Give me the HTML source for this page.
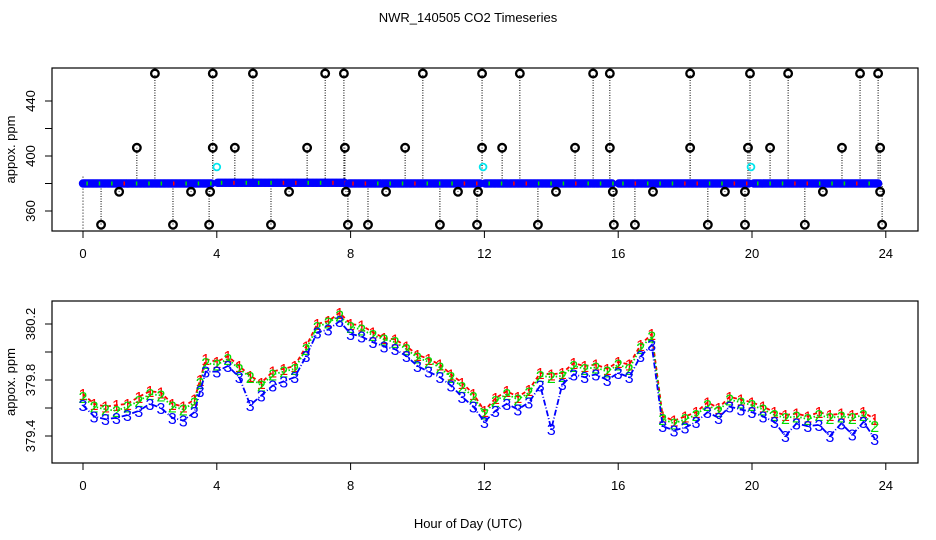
<!DOCTYPE html>
<html><head><meta charset="utf-8"><style>
body{margin:0;background:#fff}
svg{display:block;font-family:"Liberation Sans",sans-serif}
</style></head><body>
<svg id="c" width="936" height="540" viewBox="0 0 936 540" xmlns="http://www.w3.org/2000/svg">
<rect width="936" height="540" fill="#fff"/>
<text x="468" y="22" font-size="13" text-anchor="middle">NWR_140505  CO2 Timeseries</text>
<text x="468" y="528" font-size="13" text-anchor="middle">Hour of Day (UTC)</text>
<g id="top"></g>
<g id="bot"></g>
</svg>
<script>
// ---- data ----
const xTicks=[0,4,8,12,16,20,24];
const topYTicks=[360,380,400,420,440];
const topYLabels=["360","","400","","440"];
const botYTicks=[379.4,379.6,379.8,380.0,380.2];
const botYLabels=["379.4","","379.8","","380.2"];
const baseSegStart=[0,4.02,7.95,12.02,16.02,20.05];
const baseSegEnd=[3.85,7.85,11.9,15.85,19.9,23.8];
const baseLevel=[380,380.5,380,380,380,380];
const outHours=[2.15,3.88,5.08,7.24,7.80,10.16,11.93,13.06,15.25,15.75,18.15,19.94,21.08,23.23,23.77,
 1.61,3.88,4.54,6.70,7.83,9.63,11.93,12.53,14.71,15.75,18.15,19.88,20.54,22.69,23.83,
 1.08,3.23,3.80,6.16,7.86,9.06,11.21,11.81,14.14,15.84,17.04,19.19,19.79,22.12,23.83,
 0.54,2.69,3.77,5.62,7.92,8.52,10.67,11.78,13.60,15.87,16.50,18.68,19.79,21.58,23.89];
const outValues=[460,460,460,460,460,460,460,460,460,460,460,460,460,460,460,
 406,406,406,406,406,406,406,406,406,406,406,406,406,406,406,
 374,374,374,374,374,374,374,374,374,374,374,374,374,374,374,
 350,350,350,350,350,350,350,350,350,350,350,350,350,350,350];
const cyanHours=[4.0,11.96,19.97];
const cyanValues=[392,392,392];
const times=[0,0.33,0.67,1,1.33,1.67,2,2.33,2.67,3,3.33,3.5,3.67,4,4.33,4.67,5,5.33,5.67,6,6.33,6.67,7,7.33,7.67,8,8.33,8.67,9,9.33,9.67,10,10.33,10.67,11,11.33,11.67,12,12.33,12.67,13,13.33,13.67,14,14.33,14.67,15,15.33,15.67,16,16.33,16.67,17,17.33,17.67,18,18.33,18.67,19,19.33,19.67,20,20.33,20.67,21,21.33,21.67,22,22.33,22.67,23,23.33,23.67];
const series1=[379.70,379.63,379.61,379.62,379.63,379.68,379.72,379.71,379.63,379.61,379.66,379.80,379.95,379.93,379.97,379.90,379.83,379.78,379.86,379.88,379.90,380.04,380.20,380.22,380.28,380.20,380.19,380.14,380.10,380.09,380.04,379.98,379.95,379.91,379.84,379.78,379.70,379.58,379.67,379.72,379.68,379.73,379.85,379.84,379.85,379.92,379.90,379.91,379.88,379.93,379.91,380.05,380.13,379.54,379.51,379.54,379.57,379.64,379.60,379.68,379.66,379.64,379.61,379.57,379.55,379.56,379.54,379.57,379.55,379.56,379.55,379.57,379.52];
const series2=[379.68,379.61,379.59,379.58,379.61,379.65,379.70,379.69,379.61,379.59,379.64,379.78,379.92,379.91,379.95,379.88,379.82,379.76,379.84,379.86,379.88,380.02,380.18,380.21,380.26,380.18,380.16,380.12,380.09,380.07,380.02,379.96,379.93,379.89,379.82,379.75,379.68,379.56,379.65,379.70,379.66,379.71,379.83,379.82,379.83,379.90,379.88,379.89,379.86,379.91,379.88,380.03,380.11,379.52,379.49,379.52,379.55,379.62,379.58,379.66,379.64,379.62,379.59,379.55,379.53,379.54,379.52,379.55,379.53,379.54,379.53,379.55,379.47];
const series3=[379.62,379.54,379.52,379.53,379.55,379.58,379.63,379.60,379.53,379.51,379.57,379.72,379.86,379.86,379.90,379.82,379.62,379.69,379.76,379.79,379.82,379.97,380.14,380.16,380.22,380.13,380.11,380.07,380.04,380.02,379.97,379.90,379.86,379.82,379.76,379.68,379.61,379.50,379.58,379.63,379.59,379.64,379.76,379.45,379.77,379.84,379.82,379.84,379.80,379.85,379.82,379.97,380.05,379.47,379.44,379.46,379.50,379.57,379.53,379.61,379.59,379.57,379.54,379.50,379.40,379.49,379.47,379.48,379.40,379.49,379.41,379.50,379.38];

// ---- geometry ----
const NS='http://www.w3.org/2000/svg';
function mk(tag,attrs,parent,txt){const e=document.createElementNS(NS,tag);for(const k in attrs)e.setAttribute(k,attrs[k]);if(txt!==undefined)e.textContent=txt;parent.appendChild(e);return e;}
const X=h=>83+h*33.45;
const boxL=52,boxR=918;
const topY=v=>156-(v-400)*1.375;
const botY=v=>380-(v-379.8)*140;

function axes(g,top,bottom,yfun,ticks,labels,name){
  const r=mk('rect',{x:boxL,y:top,width:boxR-boxL,height:bottom-top,fill:'none',stroke:'#000','stroke-width':1.2},g);
  
  
  xTicks.forEach(t=>{
    const l=mk('line',{x1:X(t),x2:X(t),y1:bottom,y2:bottom+7,stroke:'#000'},g);
    
    
    const tx=mk('text',{x:X(t),y:bottom+27,'font-size':13,'text-anchor':'middle'},g,String(t));
    
    
  });
  ticks.forEach((v,i)=>{
    const y=yfun(v);
    const l=mk('line',{x1:boxL,x2:boxL-7,y1:y,y2:y,stroke:'#000'},g);
    
    
    if(labels[i]){
      const tx=mk('text',{x:0,y:0,'font-size':13,'text-anchor':'middle',transform:`translate(35,${y}) rotate(-90)`},g,labels[i]);
      
      
    }
  });
  const yt=mk('text',{x:0,y:0,'font-size':13,'text-anchor':'middle',transform:`translate(15,${(top+bottom)/2}) rotate(-90)`},g,'appox. ppm');
  
  
}

// ---- top panel ----
const gt=document.getElementById('top');
axes(gt,68,231,topY,topYTicks,topYLabels,'top');
const gl=mk('g',{},gt);


mk('line',{x1:X(0),x2:X(0),y1:topY(385),y2:231,stroke:'#000','stroke-dasharray':'1,2'},gl);
outHours.forEach((h,i)=>{
  const l=mk('line',{x1:X(h),x2:X(h),y1:topY(380),y2:topY(outValues[i]),stroke:'#000','stroke-width':1,'stroke-dasharray':'1,1.5'},gl);
  
  
});
baseSegStart.forEach((s,k)=>{
  for(let h=s;h<=baseSegEnd[k];h+=0.04){
    const c=mk('circle',{cx:X(h),cy:topY(baseLevel[k]),r:3.2,fill:'none',stroke:'#0000ff','stroke-width':2},gt);
    
    
  }
  for(let h=s+0.1;h<=baseSegEnd[k];h+=0.37){
    const c=mk('rect',{x:X(h),y:topY(baseLevel[k])-2,width:1.5,height:4,fill:(Math.round(h*10)%3===0)?'#ff0000':'#00dd00'},gt);
    
    
  }
});
outHours.forEach((h,i)=>{
  const c=mk('circle',{cx:X(h),cy:topY(outValues[i]),r:3.8,fill:'none',stroke:'#000','stroke-width':2.3},gt);
  
  
});
cyanHours.forEach((h,i)=>{
  const c=mk('circle',{cx:X(h),cy:topY(cyanValues[i]),r:3.4,fill:'none',stroke:'#00e5ee','stroke-width':1.8},gt);
  
  
});

// ---- bottom panel ----
const gb=document.getElementById('bot');
axes(gb,301,463,botY,botYTicks,botYLabels,'bottom');
const defs=[[series1,'#ff0000','4,3','1'],[series2,'#00dd00','1.5,2','2'],[series3,'#0000ff','6,2,1,2','3']];
defs.forEach(([s,col,dash,lab])=>{
  const g=mk('g',{},gb);
  
  
  const pts=s.map((v,i)=>X(times[i]).toFixed(1)+','+botY(v).toFixed(1)).join(' ');
  const pl=mk('polyline',{points:pts,fill:'none',stroke:col,'stroke-width':1.8,'stroke-dasharray':dash},g);
  
  
  s.forEach((v,i)=>{
    const t=mk('text',{x:X(times[i]),y:botY(v)+6,'font-size':16,'text-anchor':'middle',fill:col},g,lab);
    
    
  });
});
</script>
</body></html>
